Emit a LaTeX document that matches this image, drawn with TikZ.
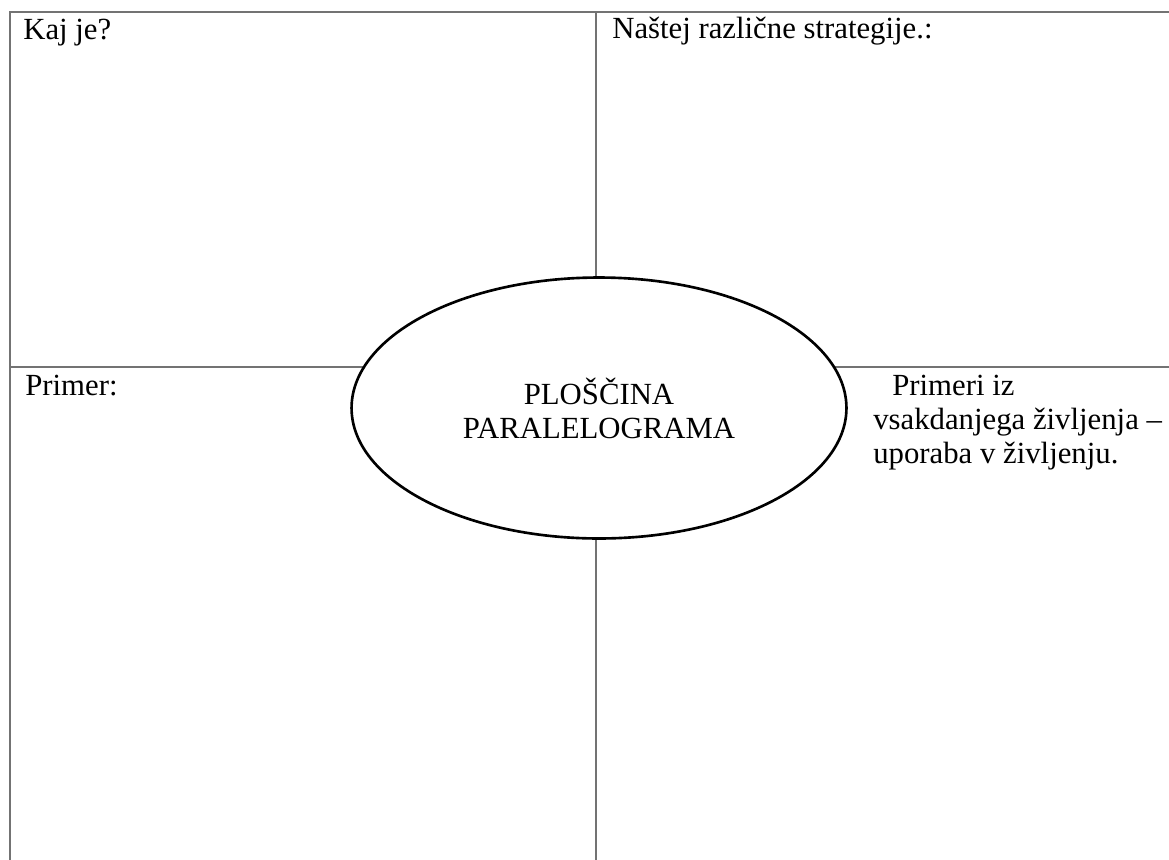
\documentclass[tikz,border=0pt]{standalone}
\usepackage{fontspec}
\setmainfont{Liberation Serif}
\newfontfamily\timesf{Liberation Serif}
\usetikzlibrary{shapes.geometric}
\tikzset{
  gridline/.style={line width=1.2pt, draw=black!55},
  celltext/.style={anchor=base west, inner sep=0pt, font=\timesf\fontsize{17.5}{19.4}\selectfont},
}
\begin{document}
\begin{tikzpicture}[x=0.02cm,y=-0.02cm]
\useasboundingbox (0,0) rectangle (1169,859);
\clip (0,0) rectangle (1169,859);

% okvir in mreža
\draw[gridline] (10,880) -- (10,12) -- (1190,12);
\draw[gridline] (596,12) -- (596,880);
\draw[gridline] (10,367) -- (1190,367);

% sredina
\node[draw, ellipse, line width=1.5pt, fill=white, inner sep=0pt,
      minimum width=9.9cm, minimum height=5.22cm, align=center,
      font=\timesf\fontsize{17.5}{19.4}\selectfont] (plosc) at (599,408)
      {PLOŠČINA\\PARALELOGRAMA};

% besedila v poljih
\node[celltext] (kaj) at (23,39) {Kaj je?};
\node[celltext] (nastej) at (612,38) {Naštej različne strategije.:};
\node[celltext] (primer) at (25,395) {Primer:};
\node[celltext] (primeri1) at (892,395) {Primeri iz};
\node[celltext] (primeri2) at (873,429) {vsakdanjega življenja –};
\node[celltext] (primeri3) at (873,463) {uporaba v življenju.};

\end{tikzpicture}
\end{document}
